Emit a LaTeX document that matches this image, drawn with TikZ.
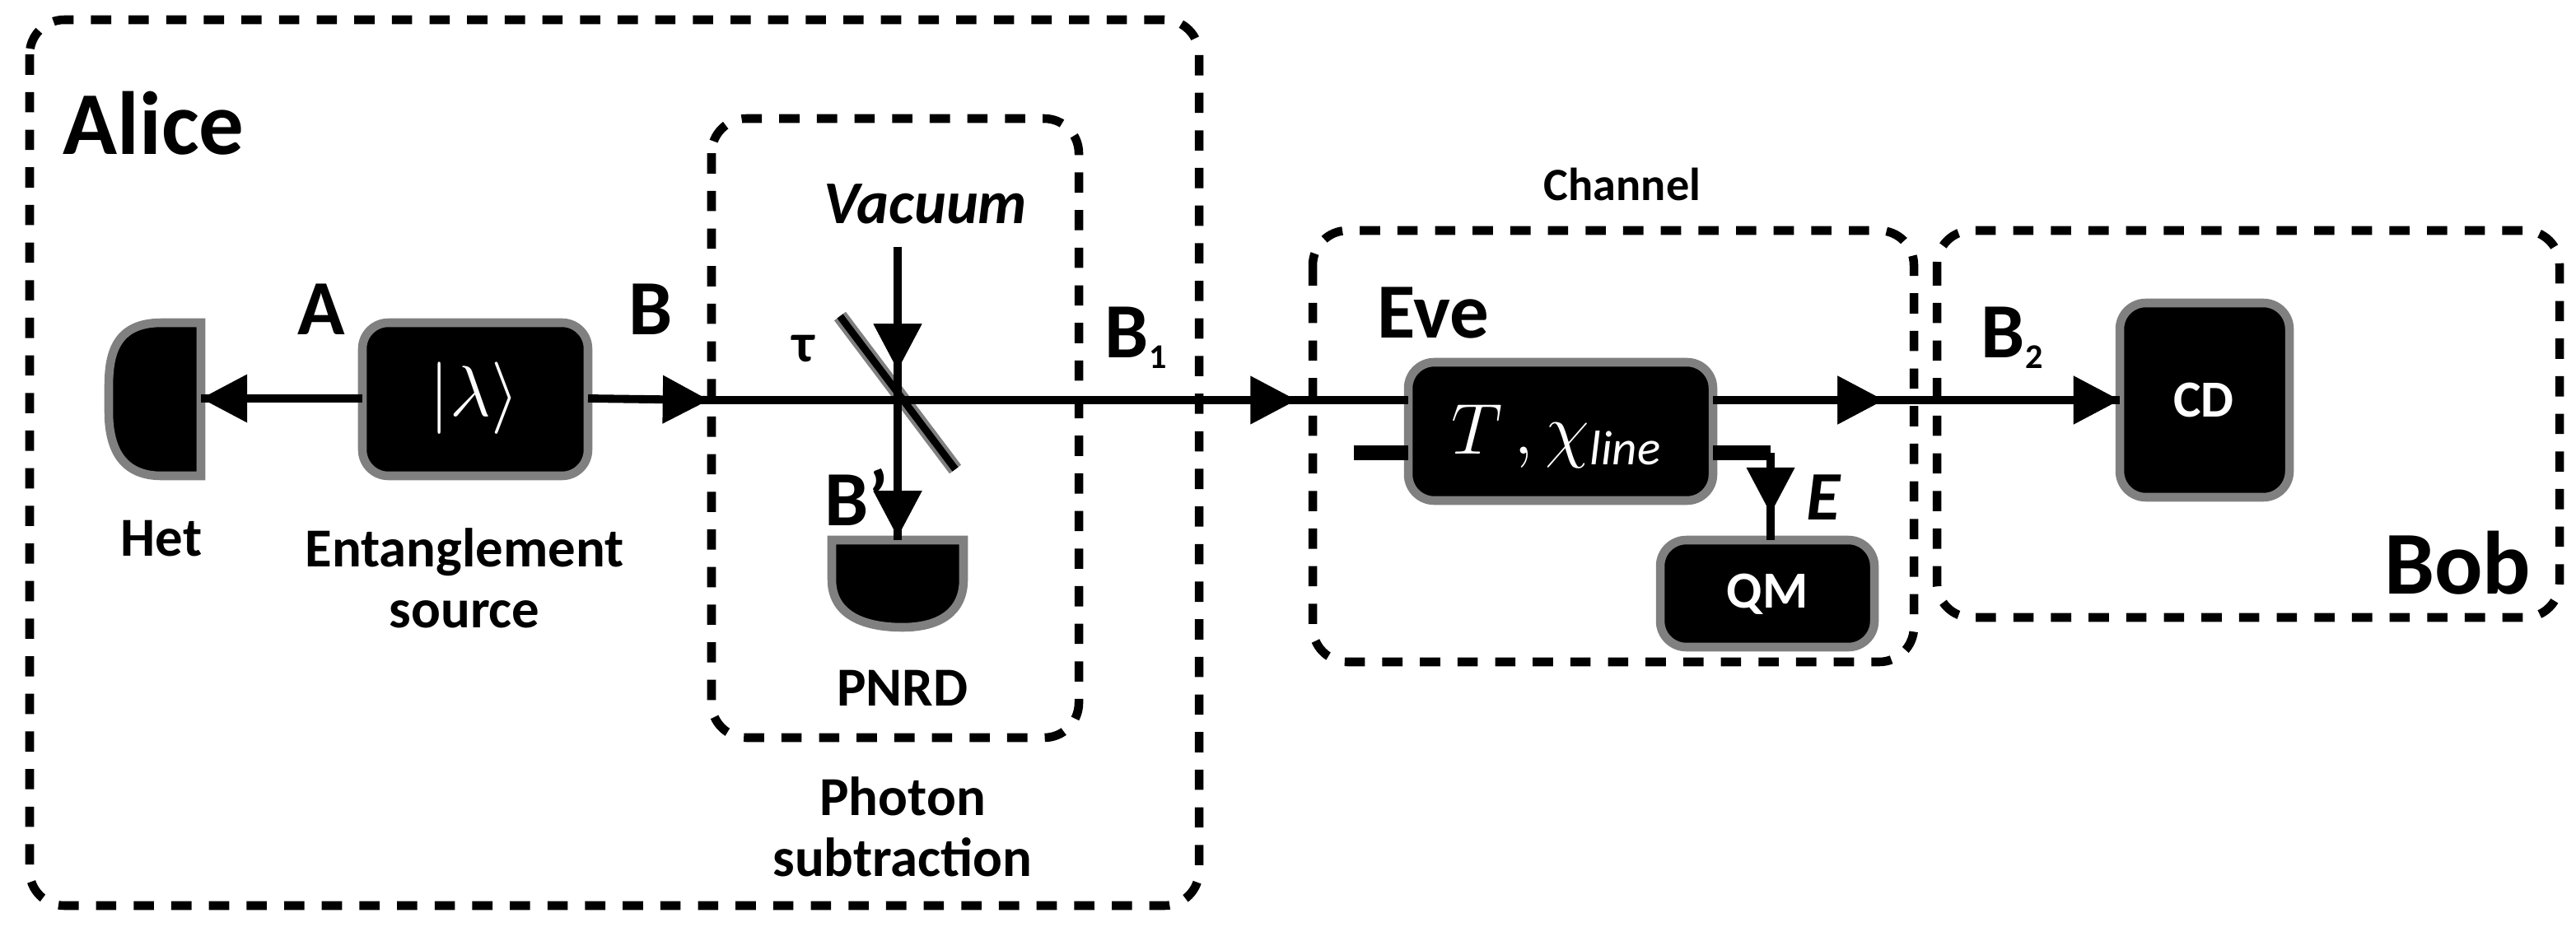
\documentclass[tikz,border=0pt]{standalone}
\usepackage{fontspec}
\setmainfont{Carlito}
\usetikzlibrary{arrows.meta,decorations.markings}
\begin{document}
\begin{tikzpicture}[x=0.02cm,y=-0.02cm,
 grp/.style={draw,line width=3pt,dash pattern=on 7pt off 6pt,rounded corners=12pt},
 blk/.style={draw=gray,fill=black,line width=3pt,rounded corners=9pt},
 beam/.style={line width=2.8pt},
 tip/.style={decoration={markings,mark=at position #1 with {\arrow{Triangle[length=16pt,width=16pt]}}},postaction=decorate},
 lab/.style={font=\bfseries\fontsize{27}{27}\selectfont},
 txt/.style={font=\bfseries\fontsize{19}{21}\selectfont,align=center}]
\useasboundingbox (0,0) rectangle (1564,562.5);
% groups
\draw[grp] (18,12) rectangle (728,550);
\draw[grp] (432,72) rectangle (655,448);
\draw[grp] (797,140) rectangle (1162,402);
\draw[grp] (1176,140) rectangle (1554,375);
\node[font=\bfseries\fontsize{31}{31}\selectfont,anchor=west] (alice) at (32,75) {Alice};
\node[font=\bfseries\fontsize{31}{31}\selectfont] (bob) at (1492,342) {Bob};
\node[font=\bfseries\fontsize{16}{16}\selectfont] (chan) at (985,112) {Channel};
\node[lab] (eve) at (870,190) {Eve};
% Het detector
\draw[blk,rounded corners=0pt] (122,196) -- (98,196) .. controls (70,196) and (66,215) .. (66,235) -- (66,250) .. controls (66,275) and (76,289) .. (98,289) -- (122,289) -- cycle;
\coordinate (het) at (122,242);
\node[txt] (hetl) at (98,327) {Het};
% source
\draw[blk] (220,196) rectangle (357,289);
\coordinate (srcL) at (220,242); \coordinate (srcR) at (357,242);
\node[white,font=\fontsize{32}{32}\selectfont] (ket) at (288,242) {$|\lambda\rangle$};
\node[txt] (srcl) at (282,351) {Entanglement\\source};
\node[lab] (A) at (195,188) {A};
\node[lab] (B) at (395,188) {B};
% beam splitter
\draw[gray,line width=5pt] (510,192) -- (580,285);
\draw[black,line width=2.5pt] (510,192) -- (580,285);
\node[font=\bfseries\fontsize{19}{19}\selectfont] (tau) at (488,212) {τ};
\node[font=\bfseries\itshape\fontsize{21}{21}\selectfont] (vac) at (562,124) {Vacuum};
\coordinate (vtop) at (545,150);
% PNRD
\draw[blk,rounded corners=0pt] (505,328) -- (585,328) -- (585,352) .. controls (585,372) and (570,381) .. (548,381) .. controls (522,381) and (505,372) .. (505,352) -- cycle;
\coordinate (pnrd) at (545,328);
\node[lab] (Bp) at (520,302) {B'};
\node[txt] (pnrdl) at (548,418) {PNRD};
\node[txt] (psl) at (548,502) {Photon\\subtraction};
% Eve box
\draw[blk] (855,220) rectangle (1040,304);
\coordinate (eveL) at (855,243); \coordinate (eveR) at (1040,243);
\coordinate (eveL2) at (855,275); \coordinate (eveR2) at (1040,275);
\node[white,font=\fontsize{24}{24}\selectfont] (tchi) at (945,265) {$T\,,\chi_{\mathit{line}}$};
\coordinate (stub) at (822,275);
\coordinate (corner) at (1075,275);
% QM
\draw[blk] (1008,328) rectangle (1138,393);
\coordinate (qm) at (1075,328);
\node[white,font=\bfseries\fontsize{18}{18}\selectfont] (qml) at (1073,361) {QM};
\node[font=\bfseries\itshape\fontsize{24}{24}\selectfont] (E) at (1107,302) {E};
% CD
\draw[blk] (1287,184) rectangle (1390,302);
\coordinate (cd) at (1287,243);
\node[white,font=\bfseries\fontsize{18}{18}\selectfont] (cdl) at (1338,243) {CD};
\node[lab] (B1) at (690,205) {B\textsubscript{\fontsize{12}{12}\selectfont 1}};
\node[lab] (B2) at (1222,205) {B\textsubscript{\fontsize{12}{12}\selectfont 2}};
% beams
\draw[beam,tip=1] (srcL) -- (het);
\draw[beam,tip=0.98] (srcR) -- (432,243);
\draw[beam,tip=0.84] (432,243) -- (eveL);
\draw[beam,tip=0.42,tip=1] (eveR) -- (cd);
\draw[beam,tip=0.42,tip=0.99] (vtop) -- (pnrd);
\draw[line width=5pt] (stub) -- (eveL2);
\draw[line width=5pt] (eveR2) -- (corner);
\draw[beam,tip=0.7] (corner) -- (qm);
\end{tikzpicture}
\end{document}
